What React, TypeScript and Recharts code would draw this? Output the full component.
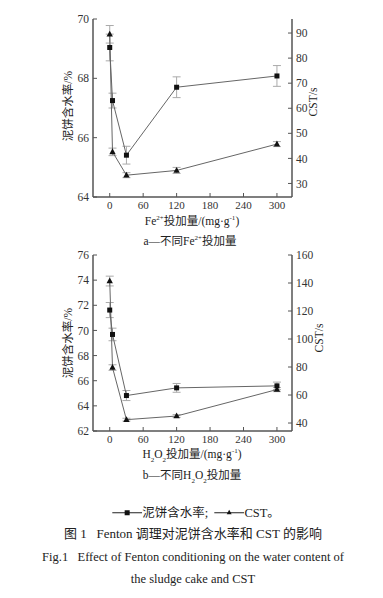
import {
  ComposedChart,
  Line,
  XAxis,
  YAxis,
  ErrorBar,
} from "recharts";

const doses = [0, 5, 30, 120, 300];
const xTicks = [0, 60, 120, 180, 240, 300];

// a — Fe2+ dosage
const feWater = [69.04, 67.25, 65.41, 67.7, 68.08];
const feWaterErr = [0.45, 0.25, 0.3, 0.35, 0.35];
const feCst = [89.5, 42.6, 33.3, 35.2, 45.7];
const feCstErr = [3.5, 1.5, 1, 1.2, 1];
const feLeftTicks = [64, 66, 68, 70];
const feRightTicks = [30, 40, 50, 60, 70, 80, 90];

// b — H2O2 dosage
const hpWater = [71.62, 69.68, 64.82, 65.43, 65.59];
const hpWaterErr = [0.6, 0.5, 0.4, 0.35, 0.3];
const hpCst = [141.4, 79.6, 42.4, 45.0, 63.9];
const hpCstErr = [3.5, 2, 1, 1, 1.5];
const hpLeftTicks = [62, 64, 66, 68, 70, 72, 74, 76];
const hpRightTicks = [40, 60, 80, 100, 120, 140, 160];

const serif = "'Liberation Serif', 'Noto Sans CJK SC', serif";
const axisColor = "#555";
const TICK_GAP = 4;
const TICK_LEN = 4;

// ticks point inwards, labels sit outside
const BottomTick = (props: any) => {
  const { x, y, payload } = props;
  const axisY = y - TICK_GAP;
  return (
    <g>
      <line x1={x} x2={x} y1={axisY} y2={axisY - TICK_LEN} stroke={axisColor} />
      <text x={x} y={y} dy="0.75em" textAnchor="middle" fontSize={11} fill="#333" fontFamily={serif}>
        {payload.value}
      </text>
    </g>
  );
};

const LeftTick = (props: any) => {
  const { x, y, payload } = props;
  const axisX = x + TICK_GAP;
  return (
    <g>
      <line x1={axisX} x2={axisX + TICK_LEN} y1={y} y2={y} stroke={axisColor} />
      <text x={x} y={y} dy="0.36em" textAnchor="end" fontSize={11.5} fill="#333" fontFamily={serif}>
        {payload.value}
      </text>
    </g>
  );
};

const RightTick = (props: any) => {
  const { x, y, payload } = props;
  const axisX = x - TICK_GAP;
  return (
    <g>
      <line x1={axisX} x2={axisX - TICK_LEN} y1={y} y2={y} stroke={axisColor} />
      <text x={x} y={y} dy="0.36em" textAnchor="start" fontSize={11.5} fill="#333" fontFamily={serif}>
        {payload.value}
      </text>
    </g>
  );
};

const SquareDot = (props: any) => {
  const { cx, cy } = props;
  if (cx == null || cy == null) return null;
  return <rect x={cx - 2.5} y={cy - 2.5} width={5} height={5} fill="#111" />;
};

const TriangleDot = (props: any) => {
  const { cx, cy } = props;
  if (cx == null || cy == null) return null;
  return (
    <polygon
      points={`${cx},${cy - 3.5} ${cx + 3.2},${cy + 2.3} ${cx - 3.2},${cy + 2.3}`}
      fill="#111"
    />
  );
};

type PanelProps = {
  water: number[];
  waterErr: number[];
  cst: number[];
  cstErr: number[];
  leftDomain: [number, number];
  leftTicks: number[];
  rightDomain: [number, number];
  rightTicks: number[];
  height: number;
  top: number;
};

function Panel(p: PanelProps) {
  const data = doses.map((d, i) => ({
    dose: d,
    water: p.water[i],
    waterErr: p.waterErr[i],
    cst: p.cst[i],
    cstErr: p.cstErr[i],
  }));
  return (
    <ComposedChart
      width={383}
      height={p.height}
      data={data}
      margin={{ top: p.top, right: 51, bottom: 0, left: 53 }}
    >
      <XAxis
        dataKey="dose"
        type="number"
        domain={[-30, 327]}
        ticks={xTicks}
        allowDataOverflow
        height={25}
        tick={<BottomTick />}
        tickSize={0}
        tickMargin={TICK_GAP}
        tickLine={false}
        axisLine={{ stroke: axisColor, strokeWidth: 1.5 }}
      />
      <YAxis
        yAxisId="left"
        domain={p.leftDomain}
        ticks={p.leftTicks}
        allowDataOverflow
        width={40}
        tick={<LeftTick />}
        tickSize={0}
        tickMargin={TICK_GAP}
        tickLine={false}
        axisLine={{ stroke: axisColor, strokeWidth: 1.5 }}
      />
      <YAxis
        yAxisId="right"
        orientation="right"
        domain={p.rightDomain}
        ticks={p.rightTicks}
        allowDataOverflow
        width={40}
        tick={<RightTick />}
        tickSize={0}
        tickMargin={TICK_GAP}
        tickLine={false}
        axisLine={{ stroke: axisColor, strokeWidth: 1.5 }}
      />
      <Line
        yAxisId="left"
        dataKey="water"
        stroke="#666"
        strokeWidth={1}
        dot={<SquareDot />}
        activeDot={false}
        isAnimationActive={false}
      >
        <ErrorBar dataKey="waterErr" direction="y" width={4} stroke="#aaa" strokeWidth={1} />
      </Line>
      <Line
        yAxisId="right"
        dataKey="cst"
        stroke="#666"
        strokeWidth={1}
        dot={<TriangleDot />}
        activeDot={false}
        isAnimationActive={false}
      >
        <ErrorBar dataKey="cstErr" direction="y" width={4} stroke="#aaa" strokeWidth={1} />
      </Line>
    </ComposedChart>
  );
}

const abs = (x: number, y: number, size: number, rotate = false): any => ({
  position: "absolute",
  left: x,
  top: y,
  transform: `translate(-50%, -50%)${rotate ? " rotate(-90deg)" : ""}`,
  whiteSpace: "nowrap",
  fontSize: size,
  fontFamily: serif,
  color: "#222",
  lineHeight: 1,
});

const sup = { fontSize: 7, verticalAlign: "super", lineHeight: 0 } as const;
const sub = { fontSize: 7, verticalAlign: "sub", lineHeight: 0 } as const;

export default function App() {
  return (
    <div
      style={{
        position: "absolute",
        left: 0,
        top: 0,
        width: 383,
        height: 598,
        background: "#fff",
        overflow: "hidden",
      }}
    >
      <div style={{ position: "absolute", left: 0, top: 0 }}>
        <Panel
          water={feWater}
          waterErr={feWaterErr}
          cst={feCst}
          cstErr={feCstErr}
          leftDomain={[64, 70]}
          leftTicks={feLeftTicks}
          rightDomain={[24.6, 95.6]}
          rightTicks={feRightTicks}
          height={222}
          top={19}
        />
      </div>
      <div style={{ position: "absolute", left: 0, top: 240 }}>
        <Panel
          water={hpWater}
          waterErr={hpWaterErr}
          cst={hpCst}
          cstErr={hpCstErr}
          leftDomain={[62, 76]}
          leftTicks={hpLeftTicks}
          rightDomain={[34.3, 160]}
          rightTicks={hpRightTicks}
          height={216}
          top={15}
        />
      </div>

      <div style={abs(69, 106, 11.5, true)}>泥饼含水率/%</div>
      <div style={abs(314, 102, 11.5, true)}>CST/s</div>
      <div style={abs(192, 222, 11.5)}>
        Fe<span style={sup}>2+</span>投加量/(mg·g<span style={sup}>-1</span>)
      </div>
      <div style={abs(190, 242, 11.5)}>
        a—不同Fe<span style={sup}>2+</span>投加量
      </div>

      <div style={abs(69, 343, 11.5, true)}>泥饼含水率/%</div>
      <div style={abs(320, 338, 11.5, true)}>CST/s</div>
      <div style={abs(192, 455, 11.5)}>
        H<span style={sub}>2</span>O<span style={sub}>2</span>投加量/(mg·g<span style={sup}>-1</span>)
      </div>
      <div style={abs(192, 476, 11.5)}>
        b—不同H<span style={sub}>2</span>O<span style={sub}>2</span>投加量
      </div>

      <div style={{ ...abs(196, 513, 12.5), display: "flex", alignItems: "center" }}>
        <svg width={30} height={10}>
          <line x1={0} y1={5} x2={30} y2={5} stroke="#222" strokeWidth={1.2} />
          <rect x={12.5} y={2.5} width={5} height={5} fill="#111" />
        </svg>
        <span>泥饼含水率;&nbsp;&nbsp;</span>
        <svg width={30} height={10}>
          <line x1={0} y1={5} x2={30} y2={5} stroke="#222" strokeWidth={1.2} />
          <polygon points="15,2 17.5,6.5 12.5,6.5" fill="#111" />
        </svg>
        <span>CST。</span>
      </div>
      <div style={abs(193, 533, 13)}>图 1&nbsp;&nbsp;&nbsp;Fenton 调理对泥饼含水率和 CST 的影响</div>
      <div style={abs(193, 557, 12.5)}>
        Fig.1&nbsp;&nbsp;&nbsp;Effect of Fenton conditioning on the water content of
      </div>
      <div style={abs(193, 579, 12.5)}>the sludge cake and CST</div>
    </div>
  );
}
